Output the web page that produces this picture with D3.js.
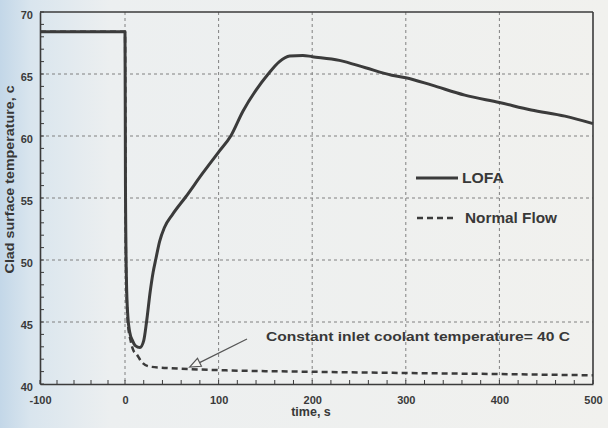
<!DOCTYPE html>
<html>
<head>
<meta charset="utf-8">
<script src="https://cdn.jsdelivr.net/npm/d3@7"></script>
<style>
  html, body { margin: 0; padding: 0; background: #f0f0ed; }
  svg { display: block; font-family: "Liberation Sans", Arial, sans-serif; }
  .tick text { font-size: 11px; font-weight: bold; fill: #3a3a3a; }
</style>
</head>
<body>
<div id="chart"></div>
<script>
// time, s
var lofaTime = [-100, 0, 0.5, 1.5, 3, 5, 8, 11, 16, 20, 23, 27, 30, 33, 37, 42, 51, 65, 83, 100, 113, 126, 140, 153, 165, 176, 190, 200, 229, 257, 285, 300, 328, 363, 400, 434, 470, 500]
// clad surface temperature, c
var lofaTemp = [68.4, 68.4, 56, 48.5, 45.5, 44.2, 43.5, 43.1, 42.95, 43.5, 45, 47.5, 49, 50.1, 51.5, 52.6, 53.7, 55.1, 57.0, 58.7, 60.0, 62.0, 63.7, 65.0, 66.0, 66.45, 66.5, 66.4, 66.1, 65.5, 64.9, 64.7, 64.1, 63.3, 62.7, 62.1, 61.6, 61]

var normalTime = [-100, 0, 1, 3, 6, 9, 12.5, 17.5, 26.7, 44, 69, 108, 186, 286, 400, 500]
var normalTemp = [68.4, 68.4, 50, 45, 43.5, 42.7, 42.4, 41.8, 41.4, 41.3, 41.2, 41.1, 41.0, 40.9, 40.8, 40.7]

var xTicks = [-100, 0, 100, 200, 300, 400, 500]
var yTicks = [40, 45, 50, 55, 60, 65, 70]
var seriesNames = ["LOFA", "Normal Flow"]
var noteText = "Constant inlet coolant temperature= 40 C"

var W = 608, H = 428
var ink = "#3b3b3b"

var svg = d3.select("#chart").append("svg")
  .attr("width", W)
  .attr("height", H)

// scanned page tint
var defs = svg.append("defs")
var grad = defs.append("linearGradient").attr("id", "tint")
grad.append("stop").attr("offset", "0%").attr("stop-color", "#c3d7e8")
grad.append("stop").attr("offset", "5%").attr("stop-color", "#d9e5ee")
grad.append("stop").attr("offset", "18%").attr("stop-color", "#eceff0")
grad.append("stop").attr("offset", "100%").attr("stop-color", "#f1f1ee")
svg.append("rect").attr("width", W).attr("height", H).attr("fill", "url(#tint)")

// scan is slightly stretched: -100..0 is narrower than the rest
var x = d3.scaleLinear().domain([-100, 0, 500]).range([40, 125, 593])
var y = d3.scaleLinear().domain([40, 70]).range([384, 12])

var plot = svg.append("g")

// gridlines
plot.append("g").selectAll("line")
    .data(xTicks.slice(1, -1))
  .enter().append("line")
    .attr("x1", d => x(d)).attr("x2", d => x(d))
    .attr("y1", y(70)).attr("y2", y(40))
    .attr("stroke", "#808080").attr("stroke-width", 1)
    .attr("stroke-dasharray", "3,3")

plot.append("g").selectAll("line")
    .data(yTicks.slice(1, -1))
  .enter().append("line")
    .attr("x1", x(-100)).attr("x2", x(500))
    .attr("y1", d => y(d)).attr("y2", d => y(d))
    .attr("stroke", "#808080").attr("stroke-width", 1)
    .attr("stroke-dasharray", "3,3")

// minor ticks (inside)
plot.append("g").selectAll("line")
    .data(d3.range(-100, 501, 20))
  .enter().append("line")
    .attr("x1", d => x(d)).attr("x2", d => x(d))
    .attr("y1", y(40)).attr("y2", y(40) - 4)
    .attr("stroke", ink).attr("stroke-width", 1)

plot.append("g").selectAll("line")
    .data(d3.range(40, 71, 1))
  .enter().append("line")
    .attr("x1", x(-100)).attr("x2", x(-100) + 4)
    .attr("y1", d => y(d)).attr("y2", d => y(d))
    .attr("stroke", ink).attr("stroke-width", 1)

// axes
var xAxis = plot.append("g")
  .attr("transform", "translate(0," + y(40) + ")")
  .call(d3.axisBottom(x).tickValues(xTicks).tickFormat(d => String(d)).tickSize(0).tickPadding(12))
var yAxis = plot.append("g")
  .attr("transform", "translate(" + x(-100) + ",0)")
  .call(d3.axisLeft(y).tickValues(yTicks).tickSize(0).tickPadding(7))
yAxis.selectAll(".tick text").attr("dy", "0.6em")
;[xAxis, yAxis].forEach(a => a.select(".domain").attr("stroke", ink).attr("stroke-width", 1.6))

// frame top/right
plot.append("line")
  .attr("x1", x(-100)).attr("x2", x(500)).attr("y1", y(70)).attr("y2", y(70))
  .attr("stroke", ink).attr("stroke-width", 1.6)
plot.append("line")
  .attr("x1", x(500)).attr("x2", x(500)).attr("y1", y(70)).attr("y2", y(40))
  .attr("stroke", ink).attr("stroke-width", 1.6)

var line = d3.line()
  .x(d => x(d[0]))
  .y(d => y(d[1]))
  .curve(d3.curveMonotoneX)

plot.append("path")
  .datum(d3.zip(normalTime, normalTemp))
  .attr("fill", "none")
  .attr("stroke", ink)
  .attr("stroke-width", 2.5)
  .attr("stroke-dasharray", "6,4")
  .attr("d", line)

plot.append("path")
  .datum(d3.zip(lofaTime, lofaTemp))
  .attr("fill", "none")
  .attr("stroke", ink)
  .attr("stroke-width", 3)
  .attr("stroke-linejoin", "round")
  .attr("d", line)

// legend
var leg = svg.append("g")
leg.append("line")
  .attr("x1", 416).attr("x2", 458).attr("y1", 178).attr("y2", 178)
  .attr("stroke", ink).attr("stroke-width", 3)
leg.append("text").attr("x", 462).attr("y", 183)
  .attr("font-size", 14).attr("font-weight", "bold").attr("fill", "#383838")
  .attr("textLength", 42).attr("lengthAdjust", "spacingAndGlyphs")
  .text(seriesNames[0])
leg.append("line")
  .attr("x1", 417).attr("x2", 457).attr("y1", 218).attr("y2", 218)
  .attr("stroke", ink).attr("stroke-width", 2.5).attr("stroke-dasharray", "6,4")
leg.append("text").attr("x", 465).attr("y", 223)
  .attr("font-size", 14).attr("font-weight", "bold").attr("fill", "#383838")
  .attr("textLength", 92).attr("lengthAdjust", "spacingAndGlyphs")
  .text(seriesNames[1])

// annotation with hollow arrow
var note = svg.append("g")
note.append("text").attr("x", 266).attr("y", 341)
  .attr("font-size", 13).attr("font-weight", "bold").attr("fill", "#383838")
  .attr("textLength", 304).attr("lengthAdjust", "spacingAndGlyphs")
  .text(noteText)
var ax0 = 247, ay0 = 339, ax1 = x(69), ay1 = y(41.2) - 2
note.append("line")
  .attr("x1", ax0).attr("y1", ay0).attr("x2", ax1 + 9).attr("y2", ay1 - 4)
  .attr("stroke", "#555").attr("stroke-width", 1.2)
var ang = Math.atan2(ay0 - ay1, ax0 - ax1)
var tri = [[0, 0], [11, -4.5], [11, 4.5]].map(p => [
  ax1 + p[0] * Math.cos(ang) - p[1] * Math.sin(ang),
  ay1 + p[0] * Math.sin(ang) + p[1] * Math.cos(ang)])
note.append("path")
  .attr("d", "M" + tri.join("L") + "Z")
  .attr("fill", "#f4f4f1").attr("stroke", "#555").attr("stroke-width", 1.2)

// axis titles
svg.append("text")
  .attr("transform", "translate(14," + y(56.5) + ") rotate(-90)")
  .attr("text-anchor", "middle")
  .attr("font-size", 12.5).attr("font-weight", "bold").attr("fill", "#383838")
  .attr("textLength", 188).attr("lengthAdjust", "spacingAndGlyphs")
  .text("Clad surface temperature, c")
svg.append("text")
  .attr("x", 311).attr("y", 416)
  .attr("text-anchor", "middle")
  .attr("font-size", 12.5).attr("font-weight", "bold").attr("fill", "#383838")
  .text("time, s")
</script>
</body>
</html>
